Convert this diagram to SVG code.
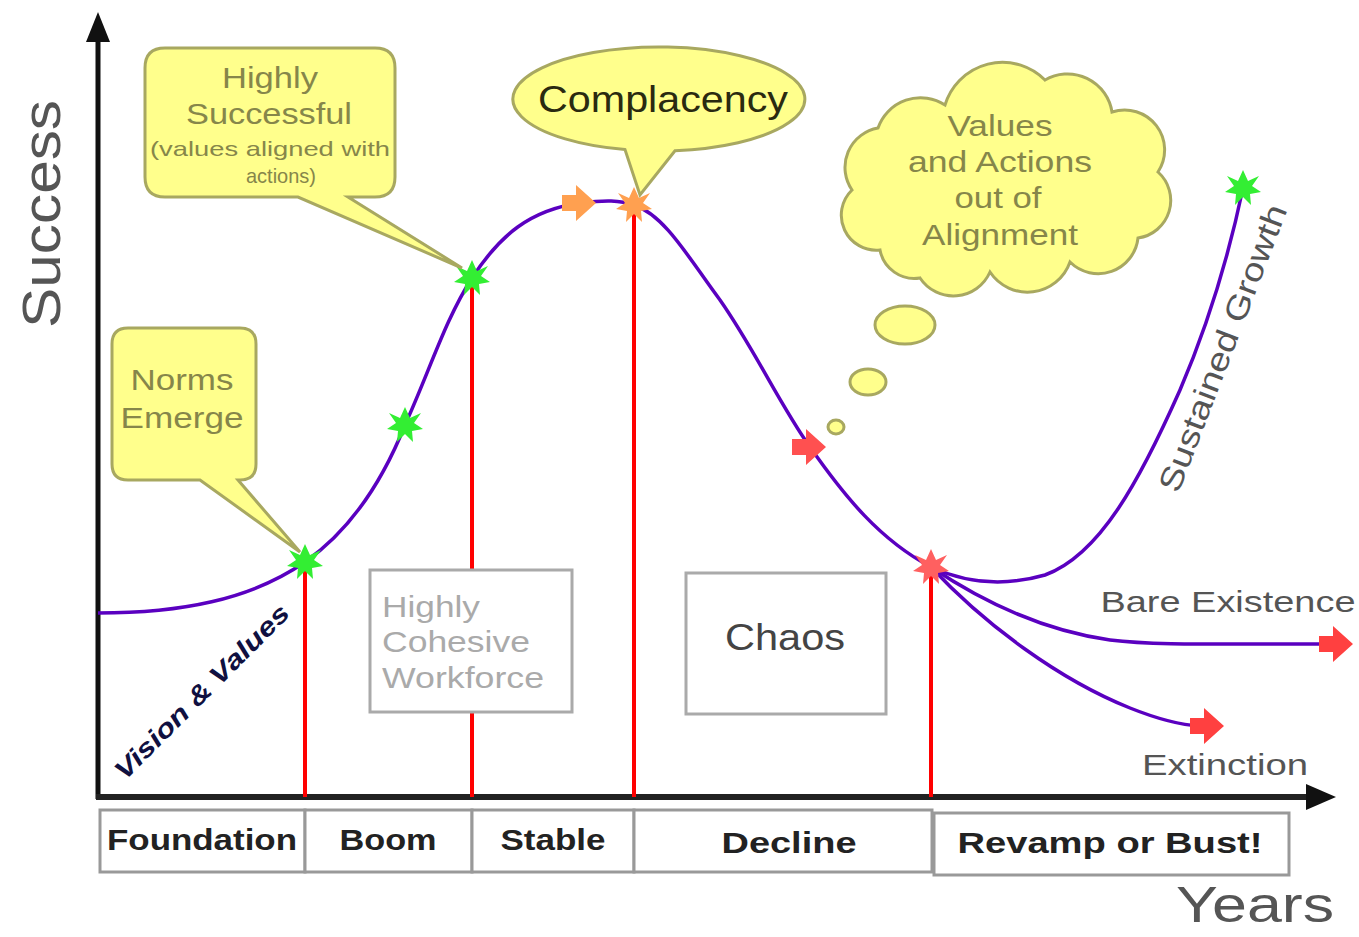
<svg xmlns="http://www.w3.org/2000/svg" width="1359" height="937" viewBox="0 0 1359 937">
<style>
.call{fill:#ffff8c;stroke:#a8a860;stroke-width:3}
.ct{font-family:"Liberation Sans",Arial,sans-serif;fill:#86864a;text-anchor:middle}
.curve{fill:none;stroke:#5a00c0;stroke-width:3.5}
.red{stroke:#ff0000;stroke-width:4}
.phase{fill:#ffffff;stroke:#999;stroke-width:3}
.pt{font-family:"Liberation Sans",Arial,sans-serif;font-weight:bold;font-size:29px;fill:#222;text-anchor:middle}
.gt{font-family:"Liberation Sans",Arial,sans-serif;fill:#555}
.box{fill:#fff;stroke:#aaa;stroke-width:3}
</style>
<defs>
<polygon id="star" points="0,-18 5,-7 16,-12 9,-2 18,4 7,6 8,17 0,9 -8,17 -7,6 -18,4 -9,-2 -16,-12 -5,-7"/>
<polygon id="arr" points="-18,-8 -4,-8 -4,-18 16,0 -4,18 -4,8 -18,8"/>
</defs>
<rect width="1359" height="937" fill="#fff"/>

<g id="axes">
<line x1="98" y1="30" x2="98" y2="799" stroke="#111" stroke-width="5"/>
<polygon points="98,12 86,42 110,42" fill="#111"/>
<line x1="96" y1="797" x2="1312" y2="797" stroke="#222" stroke-width="6"/>
<polygon points="1336,797 1306,784 1306,810" fill="#111"/>
<text class="gt" font-size="54" transform="translate(60,214) rotate(-90)" text-anchor="middle" textLength="228" lengthAdjust="spacingAndGlyphs">Success</text>
<text class="gt" font-size="50" x="1255" y="922" text-anchor="middle" fill="#666" textLength="158" lengthAdjust="spacingAndGlyphs">Years</text>
</g>

<g id="connectors">
<line class="red" x1="305" y1="562" x2="305" y2="797"/>
<line class="red" x1="472" y1="278" x2="472" y2="797"/>
<line class="red" x1="634" y1="205" x2="634" y2="797"/>
<line class="red" x1="931" y1="567" x2="931" y2="797"/>
<path class="curve" d="M98,613 C180,613 250,600 305,562 C355,527 385,475 405,425 C430,370 445,320 472,278 C500,235 530,210 580,203 C605,200 620,200 634,205 C665,215 690,260 720,300 C755,350 780,405 810,447 C845,497 880,540 931,567"/>
<path class="curve" d="M931,567 C970,585 1010,585 1045,575 C1100,555 1140,480 1180,390 C1210,320 1230,250 1243,188"/>
<path class="curve" d="M931,567 C980,600 1040,630 1110,640 C1150,645 1200,644 1330,644"/>
<path class="curve" d="M931,567 C985,625 1060,680 1130,708 C1160,720 1180,725 1200,726"/>
</g>

<g id="markers">
<use href="#star" x="305" y="562" fill="#33ee33"/>
<use href="#star" x="405" y="425" fill="#33ee33"/>
<use href="#star" x="472" y="278" fill="#33ee33"/>
<use href="#star" x="1243" y="188" fill="#33ee33"/>
<use href="#arr" x="580" y="203" fill="#ffa050"/>
<use href="#star" x="634" y="205" fill="#ffa050"/>
<use href="#arr" x="810" y="447" fill="#ff5050"/>
<use href="#star" x="931" y="567" fill="#ff6060"/>
<use href="#arr" x="1337" y="644" fill="#ff4040"/>
<use href="#arr" x="1208" y="726" fill="#ff4040"/>
</g>

<g id="norms">
<path class="call" d="M128,328 H240 Q256,328 256,344 V464 Q256,480 240,480 H238 L300,552 L200,480 H128 Q112,480 112,464 V344 Q112,328 128,328 Z"/>
<text class="ct" font-size="30" x="182" y="390" textLength="103" lengthAdjust="spacingAndGlyphs">Norms</text>
<text class="ct" font-size="30" x="182" y="428" textLength="123" lengthAdjust="spacingAndGlyphs">Emerge</text>
</g>

<g id="successful">
<path class="call" d="M165,48 H375 Q395,48 395,68 V177 Q395,197 375,197 H348 L462,268 L298,197 H165 Q145,197 145,177 V68 Q145,48 165,48 Z"/>
<text class="ct" font-size="30" x="270" y="88" textLength="96" lengthAdjust="spacingAndGlyphs">Highly</text>
<text class="ct" font-size="30" x="269" y="124" textLength="166" lengthAdjust="spacingAndGlyphs">Successful</text>
<text class="ct" font-size="21" x="270" y="156" textLength="240" lengthAdjust="spacingAndGlyphs">(values aligned with</text>
<text class="ct" font-size="21" x="281" y="183" textLength="70" lengthAdjust="spacingAndGlyphs">actions)</text>
</g>

<g id="complacency">
<path class="call" d="M625,149.6 A146,52 0 1 1 675,150.7 L640,195 Z"/>
<text font-family="Liberation Sans,Arial,sans-serif" font-size="36" fill="#2a2a10" x="663" y="112" text-anchor="middle" textLength="250" lengthAdjust="spacingAndGlyphs">Complacency</text>
</g>

<g id="cloud">
<path class="call" d="M880,250 A35,35 0 0 1 852,190 A40,40 0 0 1 878,128 A45,45 0 0 1 945,105 A60,60 0 0 1 1045,80 A45,45 0 0 1 1112,112 A40,40 0 0 1 1158,172 A38,38 0 0 1 1138,238 A40,40 0 0 1 1070,262 A45,45 0 0 1 990,272 A40,40 0 0 1 920,278 A35,35 0 0 1 880,250 Z"/>
<ellipse class="call" cx="905" cy="325" rx="30" ry="19"/>
<ellipse class="call" cx="868" cy="382" rx="18" ry="13"/>
<ellipse class="call" cx="836" cy="427" rx="8" ry="7"/>
<text class="ct" font-size="30" x="1000" y="136" textLength="105" lengthAdjust="spacingAndGlyphs">Values</text>
<text class="ct" font-size="30" x="1000" y="172" textLength="184" lengthAdjust="spacingAndGlyphs">and Actions</text>
<text class="ct" font-size="30" x="998" y="208" textLength="87" lengthAdjust="spacingAndGlyphs">out of</text>
<text class="ct" font-size="30" x="1000" y="245" textLength="156" lengthAdjust="spacingAndGlyphs">Alignment</text>
</g>

<g id="cohesive">
<rect class="box" x="370" y="570" width="202" height="142"/>
<text font-family="Liberation Sans,Arial,sans-serif" font-size="30" fill="#aaa" x="382" y="617" textLength="98" lengthAdjust="spacingAndGlyphs">Highly</text>
<text font-family="Liberation Sans,Arial,sans-serif" font-size="30" fill="#aaa" x="382" y="652" textLength="148" lengthAdjust="spacingAndGlyphs">Cohesive</text>
<text font-family="Liberation Sans,Arial,sans-serif" font-size="30" fill="#aaa" x="382" y="688" textLength="162" lengthAdjust="spacingAndGlyphs">Workforce</text>
</g>

<g id="chaos">
<rect class="box" x="686" y="573" width="200" height="141" stroke="#888"/>
<text font-family="Liberation Sans,Arial,sans-serif" font-size="36" fill="#444" x="785" y="650" text-anchor="middle" textLength="120" lengthAdjust="spacingAndGlyphs">Chaos</text>
</g>

<g id="labels">
<text font-family="Liberation Sans,Arial,sans-serif" font-size="26" font-weight="bold" font-style="italic" fill="#101040" transform="translate(208,698) rotate(-45)" text-anchor="middle" textLength="235" lengthAdjust="spacingAndGlyphs">Vision &amp; Values</text>
<text class="gt" font-size="32" fill="#888" transform="translate(1233,352) rotate(-69)" text-anchor="middle" textLength="305" lengthAdjust="spacingAndGlyphs">Sustained Growth</text>
<text class="gt" font-size="30" fill="#333" x="1228" y="612" text-anchor="middle" textLength="255" lengthAdjust="spacingAndGlyphs">Bare Existence</text>
<text class="gt" font-size="30" fill="#444" x="1225" y="775" text-anchor="middle" textLength="166" lengthAdjust="spacingAndGlyphs">Extinction</text>
</g>

<g id="phases">
<rect class="phase" x="100" y="810" width="205" height="62"/>
<text class="pt" x="202" y="850" textLength="190" lengthAdjust="spacingAndGlyphs">Foundation</text>
<rect class="phase" x="305" y="810" width="167" height="62"/>
<text class="pt" x="388" y="850" textLength="97" lengthAdjust="spacingAndGlyphs">Boom</text>
<rect class="phase" x="472" y="810" width="162" height="62"/>
<text class="pt" x="553" y="850" textLength="105" lengthAdjust="spacingAndGlyphs">Stable</text>
<rect class="phase" x="634" y="810" width="298" height="62"/>
<text class="pt" x="789" y="853" textLength="135" lengthAdjust="spacingAndGlyphs">Decline</text>
<rect class="phase" x="934" y="813" width="355" height="62"/>
<text class="pt" x="1110" y="853" textLength="305" lengthAdjust="spacingAndGlyphs">Revamp or Bust!</text>
</g>
</svg>
